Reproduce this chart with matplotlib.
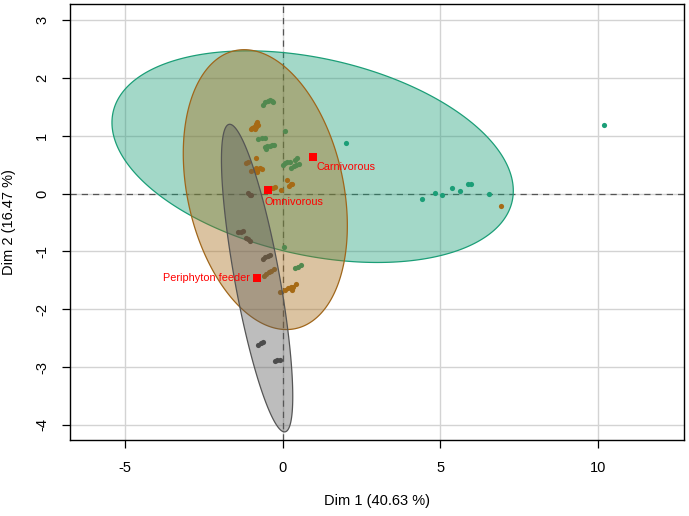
import numpy as np
import matplotlib.pyplot as plt
from matplotlib.colors import to_rgba
from matplotlib.patches import Polygon

plt.rcParams['font.family'] = ['Liberation Sans', 'DejaVu Sans']
plt.rcParams['axes.unicode_minus'] = False

# individuals per feeding group (Dim 1, Dim 2)
carn_x = [-0.63, -0.57, -0.47, -0.41, -0.34, -0.32, 0.06, -0.78, -0.64, -0.57,
          -0.57, -0.49, -0.41, -0.34, -0.28, -0.52, 0.01, 0.08, 0.15, 0.22,
          0.27, 0.36, 0.43, 0.51, 0.38, 0.46, 2.02, 0.04, 0.38, 0.48, 0.59,
          4.42, 4.84, 5.04, 5.37, 5.62, 5.86, 5.97, 6.53, 10.17]
carn_y = [1.54, 1.58, 1.61, 1.62, 1.61, 1.59, 1.09, 0.94, 0.97, 0.96,
          0.80, 0.82, 0.83, 0.84, 0.85, 0.78, 0.50, 0.53, 0.55, 0.54,
          0.45, 0.48, 0.50, 0.51, 0.59, 0.61, 0.87, -0.93, -1.29, -1.26, -1.23,
          -0.09, 0.01, -0.03, 0.10, 0.04, 0.16, 0.16, -0.01, 1.19]

omni_x = [-1.01, -0.96, -0.91, -0.86, -0.80, -0.78, -0.83, -0.89,
          -1.15, -1.10, -0.83, -0.99, -0.89, -0.83, -0.78, -0.73, -0.67, -0.80,
          0.15, 0.19, 0.25, 0.29, -0.31, -0.25, -0.36, -0.04,
          -0.59, -0.52, -0.44, -0.36, -0.28,
          -0.09, 0.06, 0.17, 0.25, 0.33, 0.29, 0.43, 6.92]
omni_y = [1.12, 1.13, 1.16, 1.20, 1.24, 1.19, 1.15, 1.12,
          0.53, 0.55, 0.61, 0.40, 0.41, 0.44, 0.43, 0.44, 0.43, 0.38,
          0.24, 0.14, 0.16, 0.17, 0.10, 0.11, 0.09, 0.06,
          -1.43, -1.39, -1.36, -1.33, -1.31,
          -1.70, -1.66, -1.64, -1.62, -1.61, -1.66, -1.56, -0.21]

peri_x = [-1.10, -1.04, -1.01, -1.41, -1.33, -1.26, -1.15, -1.10, -1.04,
          -0.62, -0.55, -0.47, -0.41, -0.78, -0.70, -0.62, -0.25, -0.17, -0.09]
peri_y = [0.01, -0.02, -0.03, -0.67, -0.66, -0.64, -0.77, -0.79, -0.82,
          -1.13, -1.10, -1.07, -1.06, -2.61, -2.59, -2.57, -2.90, -2.88, -2.87]

groups = ['Carnivorous', 'Omnivorous', 'Periphyton feeder']
centre_x = [0.95, -0.48, -0.80]
centre_y = [0.64, 0.07, -1.46]
# ellipse spread: sd along Dim 1, sd along Dim 2, covariance
ell_cx = [0.95, -0.55, -0.81]
ell_cy = [0.64, 0.07, -1.46]
ell_sx = [6.36, 2.60, 1.13]
ell_sy = [1.83, 2.42, 2.66]
ell_cxy = [-3.75, -1.62, -2.31]

colors = ['#1B9E77', '#A66A15', '#5A5A5A']
edge_colors = ['#1B9E77', '#A0661A', '#555555']

fig = plt.figure(figsize=(6.89, 5.16), dpi=100)
fig.patch.set_facecolor('white')
ax = fig.add_axes([70/689, 76/516, 614/689, 436/516])


def ellipse(i, z):
    cov = np.array([[ell_sx[i]**2, ell_cxy[i]], [ell_cxy[i], ell_sy[i]**2]])
    L = np.linalg.cholesky(cov)
    t = np.linspace(0, 2*np.pi, 300)
    pts = (L @ np.vstack([np.cos(t), np.sin(t)])).T + [ell_cx[i], ell_cy[i]]
    ax.add_patch(Polygon(pts, closed=True, facecolor=to_rgba(colors[i], 0.4),
                         edgecolor=edge_colors[i], linewidth=0.9, zorder=z))


ellipse(0, 2)
ax.scatter(carn_x, carn_y, s=14, color=colors[0], linewidths=0, zorder=3)
ax.scatter(omni_x, omni_y, s=14, color=colors[1], linewidths=0, zorder=3)
ax.scatter(peri_x, peri_y, s=14, color='#444444', linewidths=0, zorder=3)
ellipse(1, 4)
ellipse(2, 5)

ax.axhline(0, color='#555555', linestyle=(0, (5, 4)), linewidth=0.9, zorder=1.5)
ax.axvline(0, color='#555555', linestyle=(0, (5, 4)), linewidth=0.9, zorder=1.5)

ax.scatter(centre_x, centre_y, marker='s', s=30, color='red', linewidths=0, zorder=6)
offsets = [(4, -10, 'left'), (-3, -12, 'left'), (-8, 0, 'right')]
for i, g in enumerate(groups):
    dx, dy, ha = offsets[i]
    ax.annotate(g, (centre_x[i], centre_y[i]), xytext=(dx, dy), textcoords='offset pixels',
                ha=ha, va='center', color='red', fontsize=7.8, zorder=7)

ax.set_xlim(-6.74, 12.72)
ax.set_ylim(-4.26, 3.28)
ax.set_xticks([-5, 0, 5, 10])
ax.set_yticks([-4, -3, -2, -1, 0, 1, 2, 3])
ax.grid(True, color='#d3d3d3', linewidth=1, zorder=0)
ax.set_axisbelow(True)
ax.tick_params(axis='both', direction='out', length=6, width=0.9, labelsize=10.5, pad=9)
ax.tick_params(axis='y', labelrotation=90, pad=9)
for lab in ax.get_yticklabels():
    lab.set_va('center')
for sp in ax.spines.values():
    sp.set_linewidth(1)
ax.set_xlabel('Dim 1 (40.63 %)', fontsize=10.5, labelpad=14)
ax.set_ylabel('Dim 2 (16.47 %)', fontsize=10.5, va='center')
ax.yaxis.set_label_coords(-61/614, 0.5)

fig.savefig('out.png', dpi=100)
